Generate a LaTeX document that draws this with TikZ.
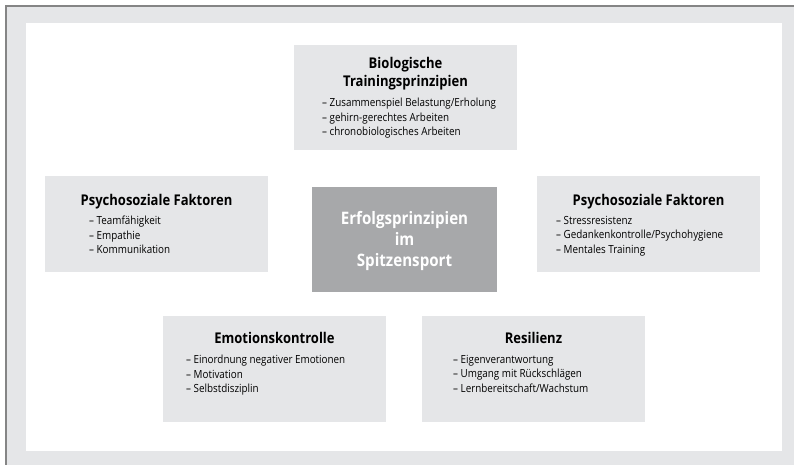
\documentclass[tikz,border=0pt]{standalone}
\usepackage{fontspec}
\setmainfont[FakeStretch=0.88]{Open Sans}
\definecolor{panel}{HTML}{E5E6E8}
\definecolor{hub}{HTML}{A7A8AA}
\definecolor{rim}{HTML}{858585}
\begin{document}
\begin{tikzpicture}[x=1pt,y=-1pt,
  box/.style={fill=panel,draw=none,anchor=north west,inner sep=0pt,outer sep=0pt},
  hubbox/.style={fill=hub,draw=none,anchor=north west,inner sep=0pt,outer sep=0pt},
  ttl/.style={font=\fontsize{14.8}{17.5}\selectfont\bfseries,align=center,inner sep=0pt},
  lst/.style={font=\fontsize{11.2}{14.5}\selectfont,align=left,anchor=north west,inner sep=0pt},
  hubtxt/.style={font=\fontsize{17.2}{21}\selectfont\bfseries,align=center,text=white,inner sep=0pt}]
\useasboundingbox (0,0) rectangle (794,465);
% frame
\fill[panel] (6,6) rectangle (794,465);
\draw[rim,line width=2pt] (6,465) -- (6,6) -- (794,6);
\fill[white] (26,23) rectangle (782,451);
% boxes
\node[box,minimum width=223pt,minimum height=105pt] (bio) at (294,45) {};
\node[box,minimum width=223pt,minimum height=96pt] (psyl) at (45,176) {};
\node[box,minimum width=223pt,minimum height=96pt] (psyr) at (537,176) {};
\node[hubbox,minimum width=185pt,minimum height=105pt] (hub) at (312,187) {};
\node[box,minimum width=223pt,minimum height=106pt] (emo) at (163,316) {};
\node[box,minimum width=223pt,minimum height=106pt] (res) at (422,316) {};
% hub text
\node[hubtxt] (hubt) at ([yshift=-1pt]hub.center) {Erfolgsprinzipien\\im\\Spitzensport};
% titles
\node[ttl] (biot) at (405.5,73.5) {Biologische\\Trainingsprinzipien};
\node[ttl] (psylt) at (156.5,202) {Psychosoziale Faktoren};
\node[ttl] (psyrt) at (648.5,202) {Psychosoziale Faktoren};
\node[ttl] (emot) at (274.5,338) {Emotionskontrolle};
\node[ttl] (rest) at (533.5,338) {Resilienz};
% lists
\node[lst] (biol) at (322,98) {– Zusammenspiel Belastung/Erholung\\– gehirn-gerechtes Arbeiten\\– chronobiologisches Arbeiten};
\node[lst] (psyll) at (89,216) {– Teamfähigkeit\\– Empathie\\– Kommunikation};
\node[lst] (psyrl) at (556,216) {– Stressresistenz\\– Gedankenkontrolle/Psychohygiene\\– Mentales Training};
\node[lst] (emol) at (186,355) {– Einordnung negativer Emotionen\\– Motivation\\– Selbstdisziplin};
\node[lst] (resl) at (453,355) {– Eigenverantwortung\\– Umgang mit Rückschlägen\\– Lernbereitschaft/Wachstum};
\end{tikzpicture}
\end{document}
